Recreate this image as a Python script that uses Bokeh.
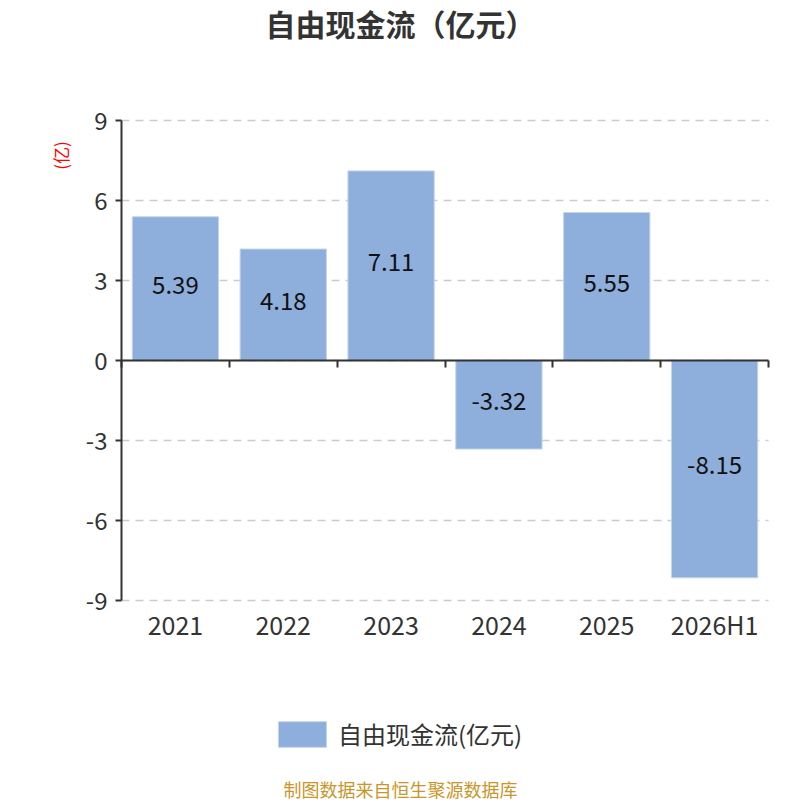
from math import pi

from bokeh.plotting import figure
from bokeh.models import (ColumnDataSource, LabelSet, Label, Legend, LegendItem,
                          LinearAxis, FixedTicker, Range1d)
from bokeh.core.properties import value
from bokeh.embed import file_html
from bokeh.resources import INLINE

# data
categories = ["2021", "2022", "2023", "2024", "2025", "2026H1"]
values = [5.39, 4.18, 7.11, -3.32, 5.55, -8.15]
y_ticks = [-9, -6, -3, 0, 3, 6, 9]

FONT = "Noto Sans CJK SC"
BAR = "#8eaedb"
INK = "#333333"

# page geometry: the plot area sits at these pixels of an 800x800 canvas
W, H = 800, 800
PX_LEFT, PX_RIGHT, PX_TOP, PX_BOTTOM = 121, 768, 120, 600

n = len(categories)
ymin, ymax = y_ticks[0], y_ticks[-1]
sx = (PX_RIGHT - PX_LEFT) / n
sy = (PX_BOTTOM - PX_TOP) / (ymax - ymin)

source = ColumnDataSource(data=dict(
    x=[i + 0.5 for i in range(n)],
    value=values,
    mid=[v / 2 for v in values],
    label=["%.2f" % v for v in values],
))
grid_src = ColumnDataSource(data=dict(y=y_ticks, x0=[0] * len(y_ticks), x1=[n] * len(y_ticks)))

p = figure(width=W, height=H, output_backend="svg", toolbar_location=None,
           x_range=Range1d(-PX_LEFT / sx, n + (W - PX_RIGHT) / sx),
           y_range=Range1d(ymin - (H - PX_BOTTOM) / sy, ymax + PX_TOP / sy),
           x_axis_location=None, y_axis_location=None, min_border=0)
p.outline_line_color = None
p.xgrid.visible = False
p.ygrid.visible = False

# dashed grid lines across the plot area only
p.segment(x0="x0", x1="x1", y0="y", y1="y", source=grid_src,
          line_color="#cccccc", line_dash="8 6", line_width=1.5)

bars = p.vbar(x="x", top="value", bottom=0, width=0.8, source=source,
              fill_color=BAR, line_color="#c4d4ee", line_width=1)

p.add_layout(LabelSet(x="x", y="mid", text="label", source=source, y_offset=4,
                      text_align="center", text_baseline="middle",
                      text_font=value(FONT), text_font_size="24px", text_color="#111111"))

# y axis
yaxis = LinearAxis(fixed_location=0, bounds=(ymin, ymax), ticker=FixedTicker(ticks=y_ticks))
yaxis.major_label_overrides = {t: str(t) for t in y_ticks}
yaxis.axis_line_color = INK
yaxis.axis_line_width = 2
yaxis.major_tick_line_color = INK
yaxis.major_tick_line_width = 2
yaxis.major_tick_out = 6
yaxis.major_tick_in = 0
yaxis.minor_tick_line_color = None
yaxis.major_label_text_font = FONT
yaxis.major_label_text_font_size = "24px"
yaxis.major_label_text_color = INK
yaxis.major_label_standoff = 8
p.add_layout(yaxis, "left")

# zero line with band ticks
zero_axis = LinearAxis(fixed_location=0, bounds=(0, n), ticker=FixedTicker(ticks=list(range(n + 1))))
zero_axis.major_label_overrides = {i: "" for i in range(n + 1)}
zero_axis.axis_line_color = INK
zero_axis.axis_line_width = 2
zero_axis.major_tick_line_color = INK
zero_axis.major_tick_line_width = 2
zero_axis.major_tick_out = 7
zero_axis.major_tick_in = 0
zero_axis.minor_tick_line_color = None
p.add_layout(zero_axis, "below")

# category labels under the plot area
cat_axis = LinearAxis(fixed_location=ymin, ticker=FixedTicker(ticks=[i + 0.5 for i in range(n)]))
cat_axis.major_label_overrides = {i + 0.5: c for i, c in enumerate(categories)}
cat_axis.axis_line_color = None
cat_axis.major_tick_line_color = None
cat_axis.minor_tick_line_color = None
cat_axis.major_tick_out = 0
cat_axis.major_label_text_font = FONT
cat_axis.major_label_text_font_size = "25px"
cat_axis.major_label_text_color = INK
cat_axis.major_label_standoff = 5
p.add_layout(cat_axis, "below")

# texts
p.add_layout(Label(x=400, y=H - 22, x_units="screen", y_units="screen",
                   text="自由现金流（亿元）", text_align="center", text_baseline="middle",
                   text_font=FONT, text_font_size="30px", text_font_style="bold",
                   text_color=INK))
p.add_layout(Label(x=60, y=H - 155, x_units="screen", y_units="screen", angle=pi / 2,
                   text="(亿)", text_align="center", text_baseline="middle",
                   text_font=FONT, text_font_size="17px", text_color="red"))
p.add_layout(Label(x=400, y=H - 788, x_units="screen", y_units="screen",
                   text="制图数据来自恒生聚源数据库", text_align="center", text_baseline="middle",
                   text_font=FONT, text_font_size="18px", text_color="#c9962a"))

# legend swatch: bokeh insets the glyph by 10% on each side
legend = Legend(items=[LegendItem(label="自由现金流(亿元)", renderers=[bars])],
                location=(272, H - 751), orientation="horizontal",
                glyph_width=60, glyph_height=32, label_standoff=6,
                label_text_font=FONT, label_text_font_size="24px",
                label_text_color=INK, label_height=32,
                padding=0, margin=0, border_line_color=None,
                background_fill_alpha=0)
p.add_layout(legend, "center")

open("out.html", "w").write(file_html(p, INLINE))
